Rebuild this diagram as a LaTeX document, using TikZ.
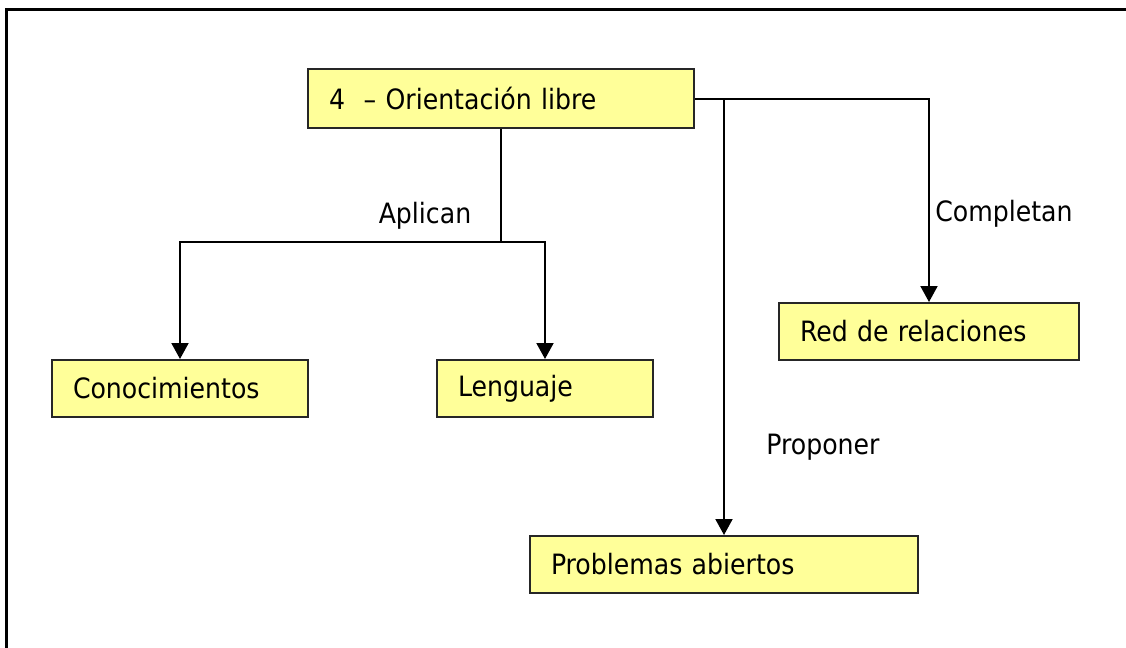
\documentclass[tikz,border=0pt]{standalone}
\usepackage{fontspec}
\setmainfont{DejaVu Sans Condensed}
\usepackage{xcolor}
\usetikzlibrary{arrows.meta}
\definecolor{boxyellow}{HTML}{FFFF99}

\begin{document}
\begin{tikzpicture}[x=0.5pt,y=-0.5pt,
    concept/.style={draw=black!85,line width=1pt,fill=boxyellow,
        anchor=north west,align=left,inner xsep=10.5pt,inner ysep=0pt,
        minimum height=28.5pt,font=\fontsize{14}{16}\selectfont},
    link/.style={line width=1pt,-{Triangle[width=8.5pt,length=8pt]}},
    verb/.style={font=\fontsize{14}{16}\selectfont}]
    \useasboundingbox (0,0) rectangle (1126,648);
    % frame
    \draw[line width=1.5pt] (6,648) |- (1126,9);
    % concepts
    \node[concept,text width=172pt,minimum height=29.5pt] (orient) at (307,68) {4\ \ – Orientación libre};
    \node[concept,text width=107pt] (conoc) at (51,359) {Conocimientos};
    \node[concept,text width=87pt] (leng) at (436,359) {Lenguaje};
    \node[concept,text width=129pt] (redrel) at (778,302) {Red de relaciones};
    \node[concept,text width=173pt] (probab) at (529,535) {Problemas abiertos};
    % verbs
    \node[verb] (aplican) at (425,216) {Aplican};
    \node[verb] (completan) at (1004,214) {Completan};
    \node[verb] (proponer) at (823,447) {Proponer};
    % connectors
    \coordinate (split) at (orient.south |- 0,242);
    \draw[line width=1pt] (orient.south) -- (split);
    \draw[link] (split) -| (conoc.north);
    \draw[link] (split) -| (leng.north);
    \draw[link] (orient.east) -| (redrel.north);
    \draw[link] (orient.east -| probab.north) -- (probab.north);
\end{tikzpicture}
\end{document}
